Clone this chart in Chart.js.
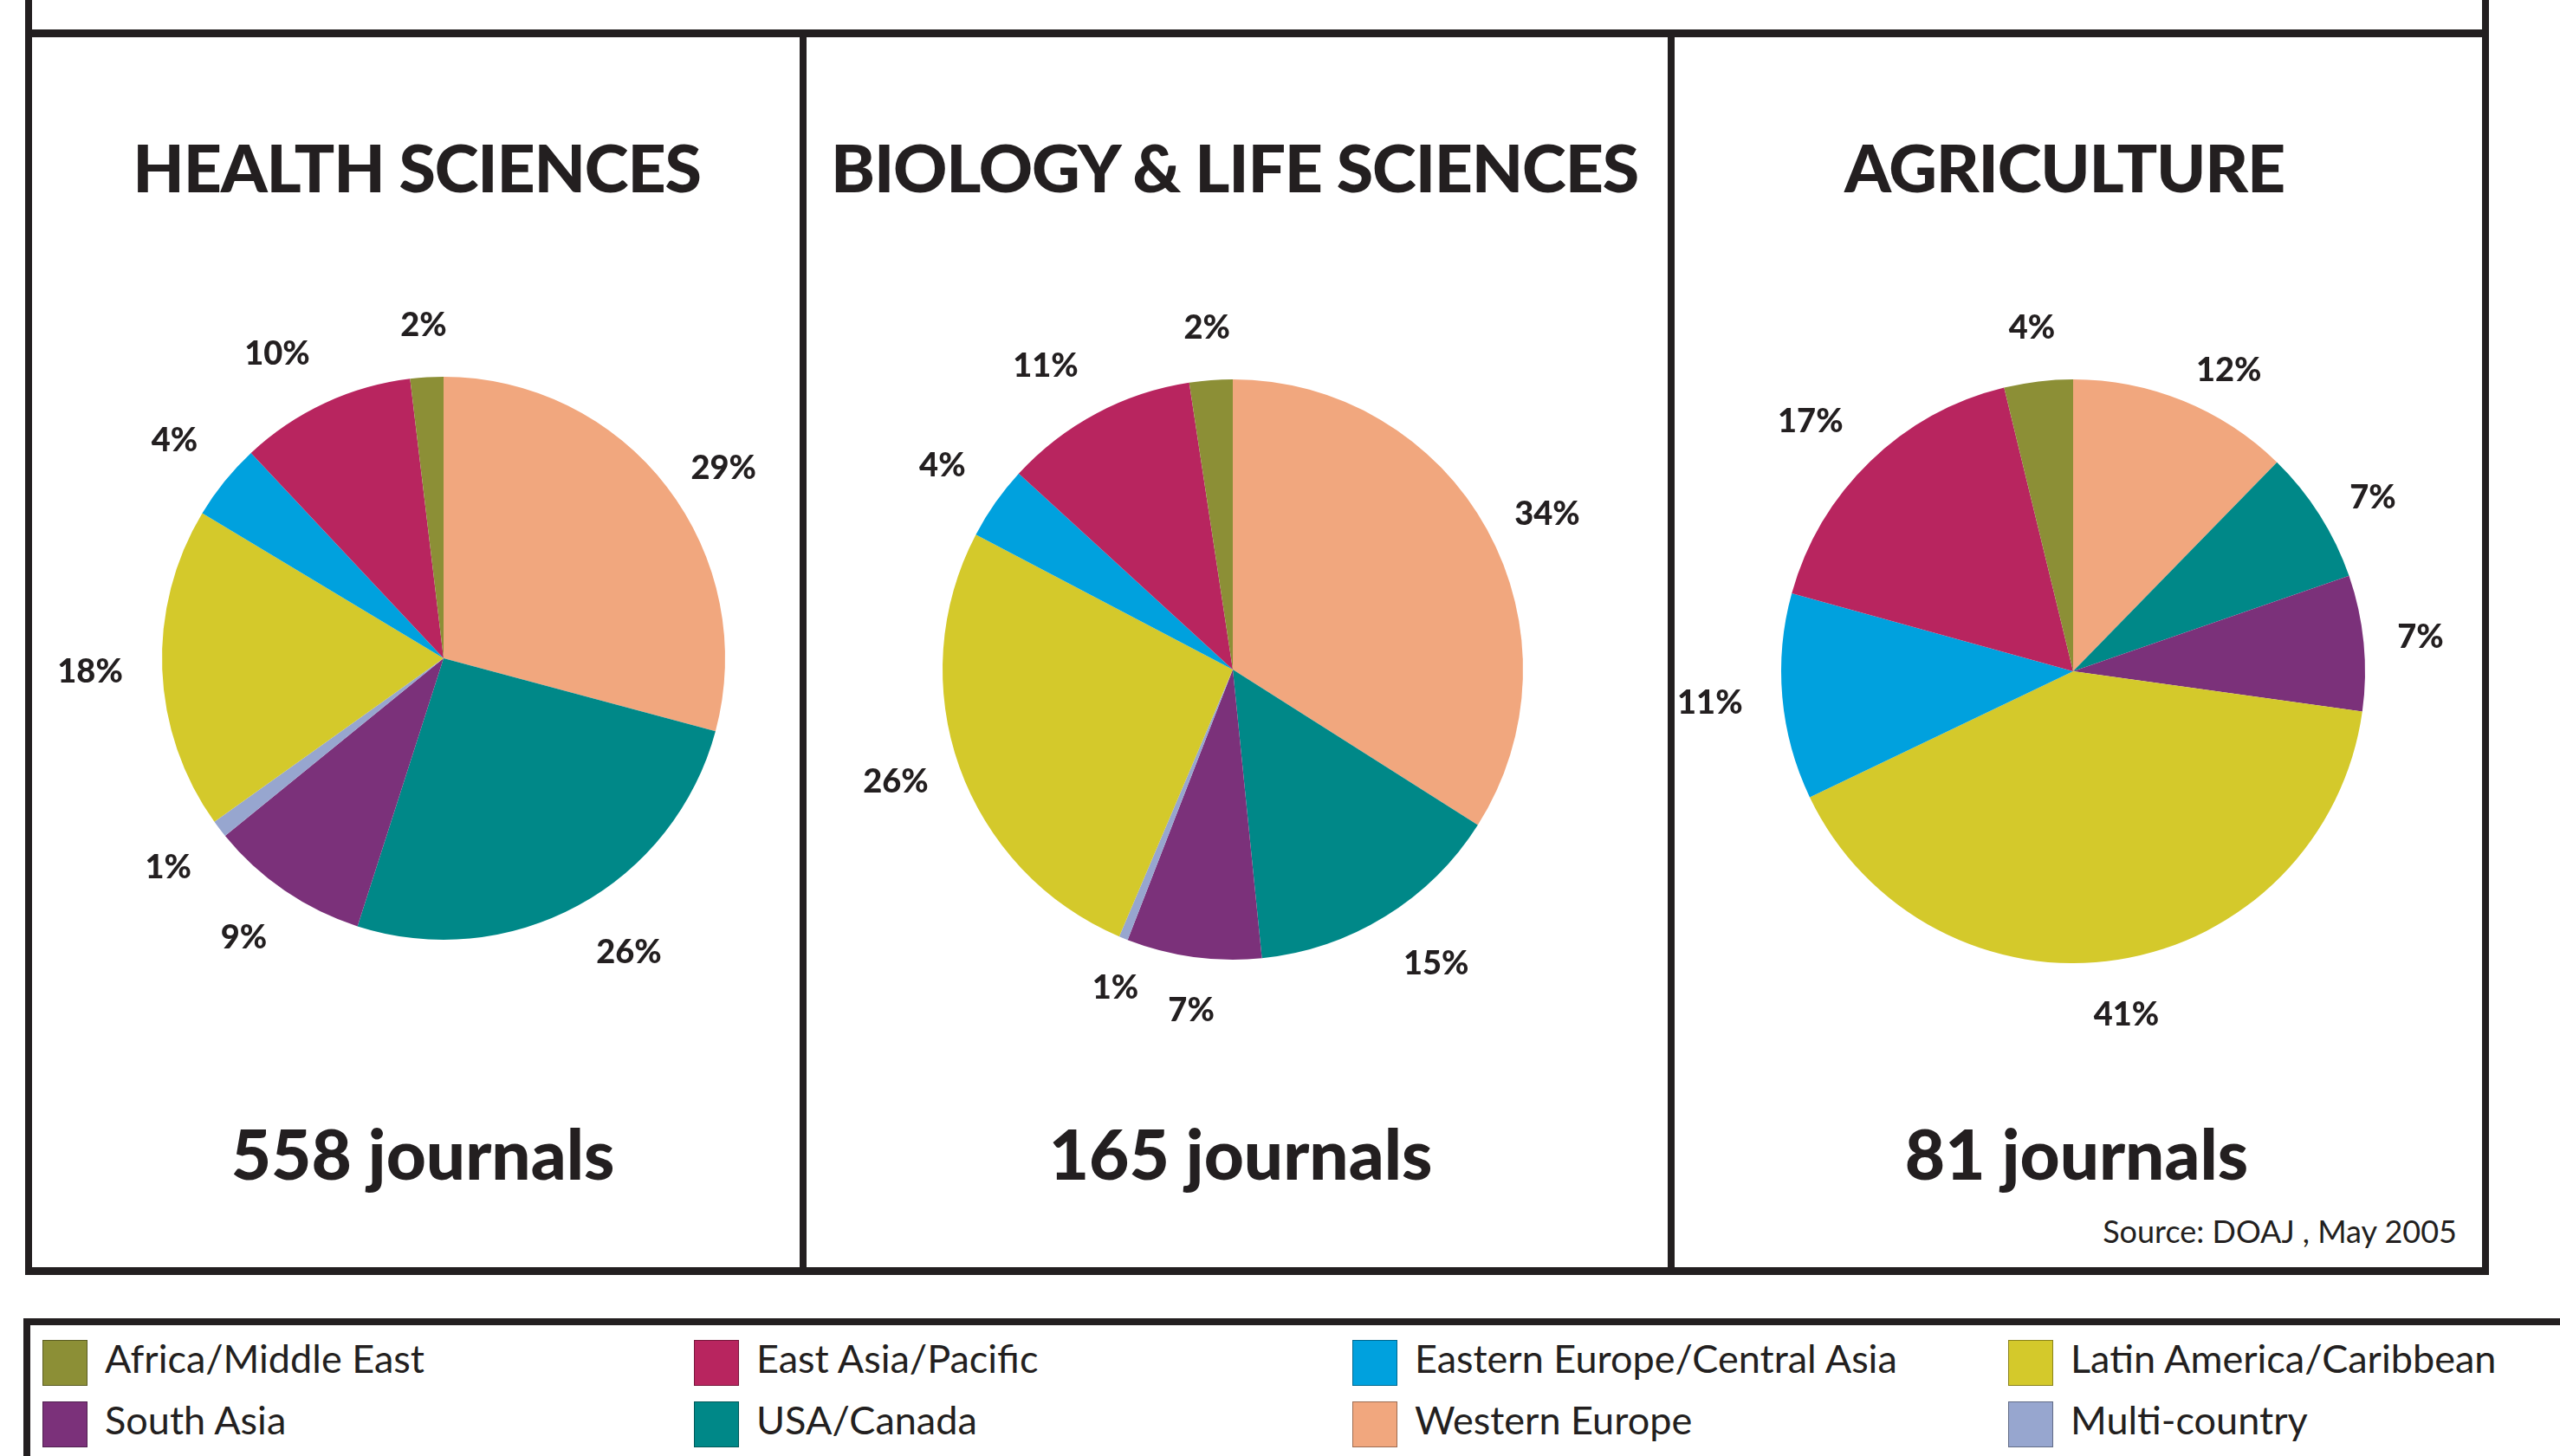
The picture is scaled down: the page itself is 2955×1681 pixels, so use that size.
<!DOCTYPE html>
<html>
<head>
<meta charset="utf-8">
<title>DOAJ journals by region</title>
<script src="https://cdn.jsdelivr.net/npm/chart.js@4.4.1/dist/chart.umd.min.js"></script>
<style>
  html, body { margin: 0; padding: 0; background: #fff; }
  #page { position: relative; width: 2955px; height: 1681px; overflow: hidden; font-family: Lato, "Open Sans", sans-serif; color: #231f20; }
  .rule { position: absolute; background: #231f20; }
  .title, .count { position: absolute; font-weight: 900; white-space: nowrap; transform: translateX(-50%); }
  .title { font-size: 77px; line-height: 77px; letter-spacing: -1.2px; }
  .count { font-size: 80px; line-height: 80px; }
  .source { position: absolute; font-size: 36px; line-height: 36px; white-space: nowrap; }
  canvas.pie { position: absolute; }
  .lg-item { position: absolute; height: 53px; }
  .lg-swatch { position: absolute; left: 0; top: 0; width: 52px; height: 53px; box-sizing: border-box; border: 1px solid rgba(0,0,0,.35); }
  .lg-text { position: absolute; left: 72px; top: -1px; font-size: 45px; line-height: 45px; white-space: nowrap; }
</style>
</head>
<body>
<div id="page"></div>

<script>
// ============================================================
// 1. DATA (slices run clockwise from 12 o'clock)
// ============================================================
const regions = ['Western Europe', 'USA/Canada', 'South Asia', 'Multi-country',
                 'Latin America/Caribbean', 'Eastern Europe/Central Asia', 'East Asia/Pacific', 'Africa/Middle East'];
const regionColors = ['#f1a77e', '#008888', '#7b317a', '#97a6cf', '#d4c92b', '#00a1de', '#b8255f', '#8c8f36'];

// shares, printed labels as in the source
const healthShares  = [29.2, 25.8, 9.2, 1.0, 18.5, 4.4, 10.1, 1.9];
const healthLabels  = ['29%', '26%', '9%', '1%', '18%', '4%', '10%', '2%'];
const biologyShares = [34.0, 14.4, 7.5, 0.5, 26.3, 4.1, 10.8, 2.4];
const biologyLabels = ['34%', '15%', '7%', '1%', '26%', '4%', '11%', '2%'];
const agriShares    = [12.3, 7.4, 7.5, 0, 40.7, 11.4, 16.9, 3.8];
const agriLabels    = ['12%', '7%', '7%', '', '41%', '11%', '17%', '4%'];

const panelTitles   = ['HEALTH SCIENCES', 'BIOLOGY & LIFE SCIENCES', 'AGRICULTURE'];
const journalCounts = [558, 165, 81];
const sourceNote    = 'Source: DOAJ , May 2005';

const legendOrder = ['Africa/Middle East', 'East Asia/Pacific', 'Eastern Europe/Central Asia', 'Latin America/Caribbean',
                     'South Asia', 'USA/Canada', 'Western Europe', 'Multi-country'];

// ============================================================
// 2. LAYOUT
// ============================================================
const PAD = 140; // room round each pie for the outside labels
const LABEL_GAP = 45;

// per-label tweak of the placement: [degrees along the rim, px outwards]
const healthNudge  = [[3.3, -18], [-3.6, 0], [1.2, 0], [0, 0], [0, 0], [0, 0], [-3.7, 0], [0, 0]];
const biologyNudge = [[2.5, -15], [-3.0, 0], [-0.8, 0], [-1.9, -10], [1.2, -10], [0, 0], [-3.6, 0], [0, 0]];
const agriNudge    = [[5.2, -20], [2.3, -12], [0, -7], [0, 0], [0, 0], [0, 0], [-2.3, 0], [0, 0]];

const panels = [
    { shares: healthShares,  labels: healthLabels,  nudge: healthNudge,  cx: 512,  cy: 760, r: 325, titleX: 481,  countX: 488 },
    { shares: biologyShares, labels: biologyLabels, nudge: biologyNudge, cx: 1423, cy: 773, r: 335, titleX: 1425, countX: 1432 },
    { shares: agriShares,    labels: agriLabels,    nudge: agriNudge,    cx: 2393, cy: 775, r: 337, titleX: 2383, countX: 2397 }
];

const rules = [
    // upper box (cut off at the top)
    [29, 0, 8, 43], [2865, 0, 8, 43],
    // panel box
    [29, 34, 2844, 9], [29, 34, 8, 1438], [2865, 34, 8, 1438], [29, 1463, 2844, 9],
    [923, 34, 8, 1438], [1925, 34, 8, 1438],
    // legend box
    [27, 1522, 2928, 8], [27, 1522, 8, 159]
];

const page = document.getElementById('page');

function addEl(tag, cls, css, text) {
    const el = document.createElement(tag);
    if (cls) el.className = cls;
    if (css) el.style.cssText = css;
    if (text !== undefined) el.textContent = text;
    page.appendChild(el);
    return el;
}

// ============================================================
// 3. OUTSIDE PERCENT LABELS
// ============================================================
const outsideLabels = {
    id: 'outsideLabels',
    afterDatasetsDraw(chart) {
        const ctx = chart.ctx;
        const opts = chart.options.plugins.outsideLabels;
        const meta = chart.getDatasetMeta(0);
        ctx.save();
        ctx.font = '900 38px Lato, "Open Sans", sans-serif';
        ctx.fillStyle = '#231f20';
        ctx.textAlign = 'center';
        ctx.textBaseline = 'middle';
        meta.data.forEach((arc, i) => {
            const txt = opts.texts[i];
            if (!txt) return;
            const [dDeg, dPx] = opts.nudge[i];
            const p = arc.getProps(['x', 'y', 'startAngle', 'endAngle', 'outerRadius'], true);
            const ang = (p.startAngle + p.endAngle) / 2 + dDeg * Math.PI / 180;
            const tw = ctx.measureText(txt).width;
            const th = 27;
            const d = p.outerRadius + LABEL_GAP + dPx
                    + (tw / 2) * Math.abs(Math.cos(ang)) + (th / 2) * Math.abs(Math.sin(ang));
            ctx.fillText(txt, p.x + d * Math.cos(ang), p.y + d * Math.sin(ang));
        });
        ctx.restore();
    }
};

// ============================================================
// 4. BUILD PAGE
// ============================================================
rules.forEach(([x, y, w, h]) => addEl('div', 'rule', `left:${x}px;top:${y}px;width:${w}px;height:${h}px;`));

panels.forEach((p, i) => {
    addEl('div', 'title', `left:${p.titleX}px;top:154px;`, panelTitles[i]);
    addEl('div', 'count', `left:${p.countX}px;top:1291px;`, `${journalCounts[i]} journals`);

    const size = 2 * (p.r + PAD);
    const canvas = addEl('canvas', 'pie', `left:${p.cx - size / 2}px;top:${p.cy - size / 2}px;width:${size}px;height:${size}px;`);
    canvas.width = size;
    canvas.height = size;

    new Chart(canvas, {
        type: 'pie',
        data: {
            labels: regions,
            datasets: [{
                data: p.shares,
                backgroundColor: regionColors,
                borderWidth: 0
            }]
        },
        options: {
            responsive: false,
            animation: false,
            layout: { padding: PAD },
            plugins: {
                legend: { display: false },
                tooltip: { enabled: false },
                outsideLabels: { texts: p.labels, nudge: p.nudge }
            }
        },
        plugins: [outsideLabels]
    });
});

addEl('div', 'source', 'right:119px;top:1403px;', sourceNote);

// legend: 4 columns x 2 rows
const legendCols = [49, 801, 1561, 2318];
const legendRows = [1547, 1618];
legendOrder.forEach((name, k) => {
    const item = addEl('div', 'lg-item', `left:${legendCols[k % 4]}px;top:${legendRows[Math.floor(k / 4)]}px;`);
    const sw = document.createElement('div');
    sw.className = 'lg-swatch';
    sw.style.background = regionColors[regions.indexOf(name)];
    const tx = document.createElement('div');
    tx.className = 'lg-text';
    tx.textContent = name;
    item.appendChild(sw);
    item.appendChild(tx);
});
</script>
</body>
</html>
